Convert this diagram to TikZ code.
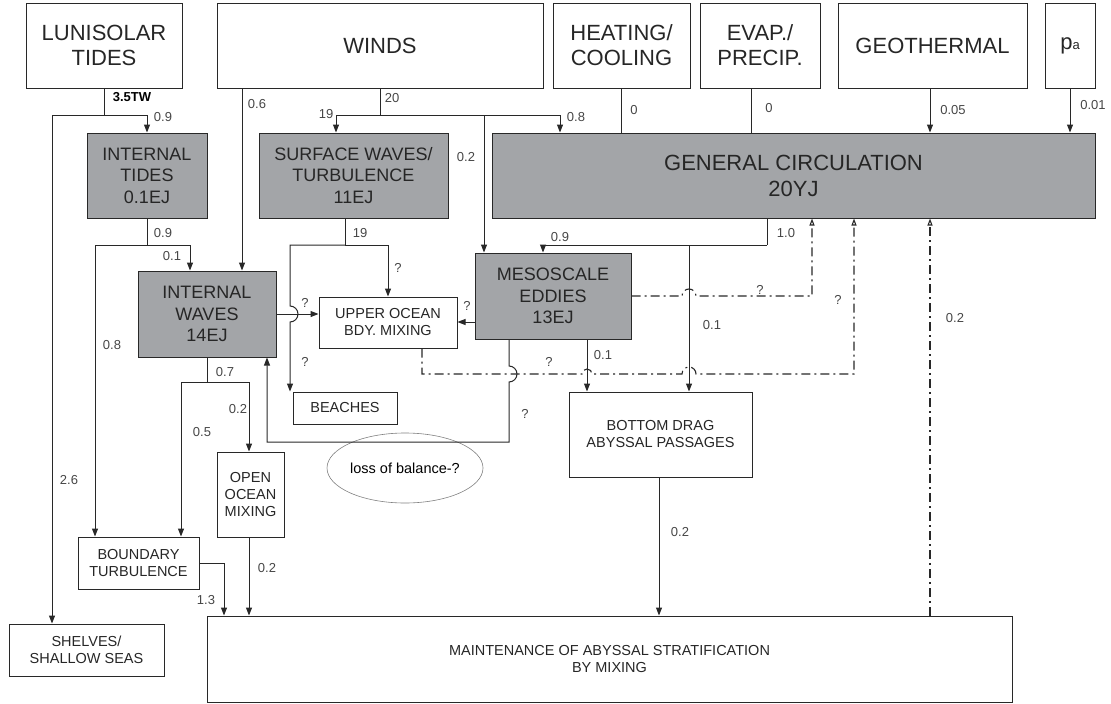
\documentclass[tikz,border=0pt]{standalone}
\usepackage{fontspec}
\setmainfont{Liberation Sans}
\usetikzlibrary{arrows.meta,positioning,shapes}
\definecolor{boxgray}{RGB}{163,165,168}
\definecolor{linec}{RGB}{40,40,40}
\definecolor{labc}{RGB}{70,70,70}
\newcommand{\fsz}[2]{\fontsize{#1}{#2}\selectfont}

\begin{document}
\begin{tikzpicture}[x=1pt,y=-1pt,
  src/.style={draw=linec,line width=1pt,rectangle,inner sep=0pt,align=center,font=\fsz{22}{25},text=black!85},
  store/.style={src,fill=boxgray,font=\fsz{18}{21.5}},
  sink/.style={src,font=\fsz{14.5}{17}},
  flow/.style={draw=linec,line width=1pt,-{Triangle[length=8pt,width=6pt]}},
  link/.style={draw=linec,line width=1pt},
  fback/.style={draw=linec,line width=1.1pt,dash pattern=on 9pt off 4pt on 2pt off 4pt,-{Triangle[open,length=7pt,width=5pt]}},
  lab/.style={font=\fsz{13}{15},text=labc,inner sep=0pt}]
\useasboundingbox (0,0) rectangle (1111,704);
% sources
\node[src,minimum width=156,minimum height=85] (lun) at (104,45.5) {LUNISOLAR\\TIDES};
\node[src,minimum width=326,minimum height=85] (winds) at (380,45.5) {WINDS};
\node[src,minimum width=137,minimum height=85] (heat) at (621.5,45.5) {HEATING/\\COOLING};
\node[src,minimum width=120,minimum height=85] (evap) at (760,45.5) {EVAP./\\PRECIP.};
\node[src,minimum width=189,minimum height=85] (geo) at (932.5,45.5) {GEOTHERMAL};
\node[src,minimum width=50,minimum height=85] (pa) at (1070,45.5) {p{\fsz{13}{13}a}};
% reservoirs
\node[store,minimum width=603,minimum height=85,font=\fsz{22}{26}] (gc) at (793.5,175.5) {GENERAL CIRCULATION\\20YJ};
\node[store,minimum width=120,minimum height=85] (itides) at (147,175.5) {INTERNAL\\TIDES\\0.1EJ};
\node[store,minimum width=189,minimum height=85] (surf) at (353.5,175.5) {SURFACE WAVES/\\TURBULENCE\\11EJ};
\node[store,minimum width=138,minimum height=86] (iwaves) at (207,314) {INTERNAL\\WAVES\\14EJ};
\node[store,minimum width=156,minimum height=86] (meso) at (553,296) {MESOSCALE\\EDDIES\\13EJ};
% sinks
\node[sink,minimum width=138,minimum height=51] (upper) at (388,322.5) {UPPER OCEAN\\BDY. MIXING};
\node[sink,minimum width=104,minimum height=32] (beach) at (345,408) {BEACHES};
\node[sink,minimum width=183,minimum height=85] (bdrag) at (660.5,434.5) {BOTTOM DRAG\\ABYSSAL PASSAGES};
\node[sink,minimum width=67,minimum height=85] (open) at (250.5,494.5) {OPEN\\OCEAN\\MIXING};
\node[sink,minimum width=121,minimum height=52] (bturb) at (138.5,563) {BOUNDARY\\TURBULENCE};
\node[sink,minimum width=155,minimum height=52] (shelves) at (86.5,650) {SHELVES/\\SHALLOW SEAS};
\node[sink,minimum width=805,minimum height=86] (maint) at (609.5,659) {MAINTENANCE OF ABYSSAL STRATIFICATION\\BY MIXING};
\node[ellipse,draw=gray,line width=0.6pt,minimum width=156,minimum height=70,inner sep=0pt,font=\fsz{14.5}{17}] (loss) at (405,468) {loss of balance-?};
% junctions
\coordinate (lunj) at (104,115);
\coordinate (itj) at (147,245);
\coordinate (wj) at (380,115);
\coordinate (wm) at (484,115);
\coordinate (sj) at (345,245);
\coordinate (gj) at (767,245);
\coordinate (gk) at (689,245);
\coordinate (iwj) at (207,382);
% tides
\draw[link] (lun.south) -- (lunj);
\draw[flow] (lunj) -| (itides.north);
\draw[flow] (lunj) -| (shelves.north -| 52,0);
\draw[link] (itides.south) -- (itj);
\draw[flow] (itj) -| (iwaves.north -| 190,0);
\draw[flow] (itj) -| (bturb.north -| 95,0);
% winds
\draw[flow] (winds.south -| 242,0) -- (iwaves.north -| 242,0);
\draw[link] (winds.south) -- (wj);
\draw[flow] (wj) -| (surf.north -| 336,0);
\draw[flow] (wj) -| (gc.north -| 560,0);
\draw[flow] (wm) -- (meso.north -| wm);
% other sources
\draw[link] (heat.south) -- (heat.south |- gc.north);
\draw[link] (evap.south -| 751,0) -- (gc.north -| 751,0);
\draw[flow] (geo.south -| 930,0) -- (gc.north -| 930,0);
\draw[flow] (pa.south) -- (pa.south |- gc.north);
% surface waves
\draw[link] (surf.south -| sj) -- (sj);
\draw[flow] (sj) -| (upper.north);
\draw[flow] (sj) -| (290,306) arc[start angle=-90,end angle=90,radius=8] -- (beach.north -| 290,0);
\draw[flow] (iwaves.east) -- (iwaves.east -| upper.west);
\draw[flow] (meso.west |- 0,322) -- (upper.east |- 0,322);
% general circulation
\draw[link] (gc.south -| gj) -- (gj);
\draw[flow] (gj) -| (meso.north -| 543,0);
\draw[flow] (gk) -- (gk |- bdrag.north);
% eddies
\draw[flow] (meso.south -| 587,0) -- (bdrag.north -| 587,0);
\draw[flow] (meso.south -| 509,0) -- (509,366) arc[start angle=-90,end angle=90,radius=8] -- (509,442) -| (iwaves.south -| 267,0);
% internal waves
\draw[link] (iwaves.south) -- (iwj);
\draw[flow] (iwj) -| (open.north -| 249,0);
\draw[flow] (iwj) -| (bturb.north -| 181,0);
\draw[flow] (bturb.east) -| (maint.north -| 224,0);
\draw[flow] (open.south -| 249,0) -- (maint.north -| 249,0);
\draw[flow] (bdrag.south -| 659,0) -- (maint.north -| 659,0);
% return paths
\draw[fback] (meso.east |- 0,296) -- (682,296) arc[start angle=180,end angle=360,radius=7] -| (gc.south -| 812,0);
\draw[fback] (upper.south -| 422,0) |- (582,374) arc[start angle=180,end angle=360,radius=5] -- (682,374) arc[start angle=180,end angle=360,radius=7] -| (gc.south -| 854,0);
\draw[fback] (maint.north -| 930,0) -- (gc.south -| 930,0);
% labels
\node[lab,font=\fsz{13}{15}\bfseries,text=black] (tw) at (132,97) {3.5TW};
\node[lab] (l1) at (163,117) {0.9};
\node[lab] (l2) at (69,480) {2.6};
\node[lab] (l3) at (163,233) {0.9};
\node[lab] (l4) at (172,256) {0.1};
\node[lab] (l5) at (112,345) {0.8};
\node[lab] (l6) at (257,104) {0.6};
\node[lab] (l7) at (392,98) {20};
\node[lab] (l8) at (326,114) {19};
\node[lab] (l9) at (576,117) {0.8};
\node[lab] (l10) at (466,157) {0.2};
\node[lab] (l11) at (634,110) {0};
\node[lab] (l12) at (769,108) {0};
\node[lab] (l13) at (953,110) {0.05};
\node[lab] (l14) at (1093,105) {0.01};
\node[lab] (l15) at (360,233) {19};
\node[lab] (q1) at (398,268) {?};
\node[lab] (q2) at (305,303) {?};
\node[lab] (q3) at (305,362) {?};
\node[lab] (q4) at (467,306) {?};
\node[lab] (l16) at (786,233) {1.0};
\node[lab] (l17) at (560,237) {0.9};
\node[lab] (l18) at (712,325) {0.1};
\node[lab] (l19) at (603,355) {0.1};
\node[lab] (q5) at (525,414) {?};
\node[lab] (q6) at (760,290) {?};
\node[lab] (q7) at (549,362) {?};
\node[lab] (q8) at (838,300) {?};
\node[lab] (l20) at (955,318) {0.2};
\node[lab] (l21) at (225,372) {0.7};
\node[lab] (l22) at (238,409) {0.2};
\node[lab] (l23) at (202,432) {0.5};
\node[lab] (l24) at (206,600) {1.3};
\node[lab] (l25) at (267,568) {0.2};
\node[lab] (l26) at (680,532) {0.2};
\end{tikzpicture}
\end{document}
